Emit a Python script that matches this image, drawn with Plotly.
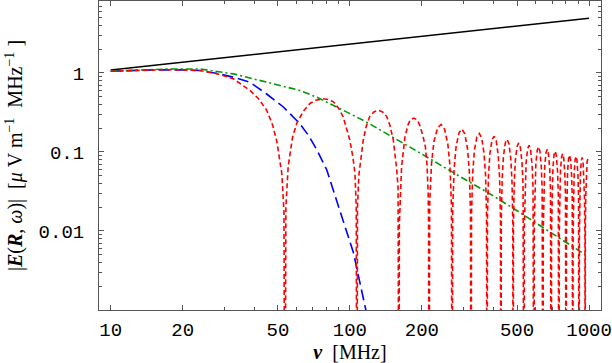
import plotly.graph_objects as go

# ---- data (nu in MHz, |E| in uV/m/MHz) ----
black_nu = [10, 20, 50, 100, 200, 500, 1000]
black_E = [1.09, 1.37, 1.85, 2.32, 2.91, 3.92, 4.92]

blue_nu = [10, 15, 20, 23.6, 28, 32.6, 38.2, 44.9, 52.7, 61.7, 67.3, 72.9, 80.1, 82.6, 91, 103.5, 116.6, 120]
blue_E = [1.05, 1.09, 1.09, 1.07, 0.98, 0.88, 0.76, 0.54, 0.37, 0.228, 0.16, 0.105, 0.059, 0.044, 0.0185, 0.0053, 0.001, 0.0006]

green_nu = [10, 13, 17, 20, 23.6, 32.6, 38.2, 44.9, 52.7, 61.7, 72.9, 85.3, 100, 117, 134, 162, 200, 250, 300, 400, 500, 700, 965]
green_E = [1.05, 1.09, 1.115, 1.12, 1.12, 0.97, 0.86, 0.76, 0.68, 0.60, 0.49, 0.39, 0.305, 0.24, 0.19, 0.137, 0.094, 0.063, 0.0457, 0.0275, 0.018, 0.0094, 0.005]

red_nu = [
    10, 14, 18, 23.6, 28, 32.6, 38.2, 41.5, 44.9, 47.5, 49.4, 51.9, 53.0, 53.5,
    54.0, 55.2, 57.5, 59.9, 64, 68.1, 72, 77.4, 81, 85.3, 89.5, 93.8, 97, 100, 103, 105, 106.3, 107,
    107.6, 109, 113.7, 117, 121, 126, 131.5, 137, 142.5, 147, 152, 154, 157, 159, 160, 160.5,
    161, 162.5, 164.5, 170, 175, 179, 185, 191, 196, 202, 207, 210, 212.5, 213.5, 214,
    215.6, 219.4, 224.7, 232.7, 240.8, 248.8, 256.8, 262.2, 265.9, 267.5,
    269.1, 272.9, 278.2, 286.2, 294.3, 302.3, 310.3, 315.7, 319.4, 321,
    322.6, 326.4, 331.7, 339.7, 347.8, 355.8, 363.8, 369.2, 372.9, 374.5,
    376.1, 379.9, 385.2, 393.2, 401.3, 409.3, 417.3, 422.7, 426.4, 428,
    429.6, 433.4, 438.7, 446.7, 454.8, 462.8, 470.8, 476.2, 479.9, 481.5,
    483.1, 486.9, 492.2, 500.2, 508.3, 516.3, 524.3, 529.7, 533.4, 535,
    536.6, 540.4, 545.7, 553.7, 561.8, 569.8, 577.8, 583.2, 586.9, 588.5,
    590.1, 593.9, 599.2, 607.2, 615.3, 623.3, 631.3, 636.7, 640.4, 642,
    643.6, 647.4, 652.7, 660.7, 668.8, 676.8, 684.8, 690.2, 693.9, 695.5,
    697.1, 700.9, 706.2, 714.2, 722.3, 730.3, 738.3, 743.7, 747.4, 749,
    750.6, 754.4, 759.7, 767.7, 775.8, 783.8, 791.8, 797.2, 800.9, 802.5,
    804.1, 807.9, 813.2, 821.2, 829.3, 837.3, 845.3, 850.7, 854.4, 856,
    857.6, 861.4, 866.7, 874.7, 882.8, 890.8, 898.8, 904.2, 907.9, 909.5,
    911.1, 914.9, 920.2, 928.2, 936.3, 944.3, 952.3, 957.7, 961.4, 963,
    964.6, 968.4, 973.7, 981.7, 989.8, 1000,
]
red_E = [
    1.05, 1.09, 1.10, 1.07, 0.97, 0.84, 0.60, 0.47, 0.336, 0.22, 0.14, 0.054, 0.018, 1e-6,
    0.02, 0.065, 0.15, 0.228, 0.33, 0.41, 0.45, 0.47, 0.46, 0.43, 0.36, 0.277, 0.20, 0.14, 0.085, 0.054, 0.02, 1e-6,
    0.02, 0.05, 0.14, 0.21, 0.28, 0.32, 0.336, 0.32, 0.28, 0.217, 0.14, 0.105, 0.06, 0.035, 0.012, 1e-6,
    0.012, 0.035, 0.065, 0.155, 0.22, 0.255, 0.268, 0.255, 0.217, 0.16, 0.115, 0.07, 0.03, 0.01, 1e-6,
    0.022, 0.071, 0.136, 0.202, 0.222, 0.194, 0.125, 0.066, 0.020, 1e-6,
    0.019, 0.062, 0.119, 0.176, 0.194, 0.169, 0.110, 0.058, 0.0175, 1e-6,
    0.0167, 0.055, 0.105, 0.155, 0.171, 0.149, 0.0965, 0.0507, 0.0154, 1e-6,
    0.0154, 0.0508, 0.0966, 0.1436, 0.158, 0.138, 0.0892, 0.0469, 0.0143, 1e-6,
    0.0141, 0.0463, 0.0881, 0.1309, 0.144, 0.1257, 0.0813, 0.0427, 0.0130, 1e-6,
    0.0127, 0.0418, 0.0795, 0.1181, 0.130, 0.1135, 0.0734, 0.0386, 0.0117, 1e-6,
    0.0118, 0.0389, 0.0740, 0.110, 0.121, 0.1056, 0.0683, 0.0359, 0.0109, 1e-6,
    0.0113, 0.0373, 0.0709, 0.1054, 0.116, 0.1013, 0.0655, 0.0344, 0.0105, 1e-6,
    0.0106, 0.0347, 0.066, 0.0981, 0.108, 0.0943, 0.061, 0.032, 0.0097, 1e-6,
    0.0100, 0.0328, 0.0624, 0.0927, 0.102, 0.0891, 0.0576, 0.0302, 0.0092, 1e-6,
    0.0093, 0.0305, 0.0581, 0.0863, 0.095, 0.0829, 0.0536, 0.0282, 0.0086, 1e-6,
    0.0089, 0.0292, 0.0556, 0.0827, 0.091, 0.0795, 0.0514, 0.027, 0.0082, 1e-6,
    0.0086, 0.0283, 0.0538, 0.080, 0.088, 0.0768, 0.0497, 0.0261, 0.0079, 1e-6,
    0.0083, 0.0273, 0.052, 0.0773, 0.085, 0.0742, 0.048, 0.0252, 0.0077, 1e-6,
    0.0081, 0.0267, 0.0508, 0.0755, 0.083, 0.0805,
]

x_major = [10, 20, 50, 100, 200, 500, 1000]
x_major_text = ["10", "20", "50", "100", "200", "500", "1000"]
x_minor = [30, 40, 60, 70, 80, 90, 300, 400, 600, 700, 800, 900]
y_major = [0.001, 0.01, 0.1, 1]
y_major_text = ["", "0.01", "0.1", "1"]
y_minor = [m * d for d in (0.001, 0.01, 0.1, 1) for m in range(2, 10) if m * d < 8.1]

fig = go.Figure()
fig.add_trace(go.Scatter(x=black_nu, y=black_E, mode="lines",
                         line=dict(color="black", width=1.5)))
fig.add_trace(go.Scatter(x=blue_nu, y=blue_E, mode="lines",
                         line=dict(color="#0000ff", width=1.6, dash="11px,5px")))
fig.add_trace(go.Scatter(x=green_nu, y=green_E, mode="lines",
                         line=dict(color="#009900", width=1.6, dash="7px,3px,2px,3px")))
fig.add_trace(go.Scatter(x=red_nu, y=red_E, mode="lines",
                         line=dict(color="#ff0000", width=1.6, dash="5px,3px")))

tickfont = dict(family="Liberation Mono, Courier New, monospace", size=19, color="black")
axis_common = dict(showline=True, linecolor="#555555", linewidth=1, mirror="ticks",
                   ticks="inside", ticklen=5, tickwidth=1, tickcolor="#555555",
                   showgrid=False, zeroline=False, tickfont=tickfont)

fig.update_xaxes(type="log", range=[0.951, 3.050], tickvals=x_major, ticktext=x_major_text,
                 minor=dict(tickvals=x_minor, ticks="inside", ticklen=3, tickcolor="#555555", showgrid=False),
                 ticklabelstandoff=2,
                 title=dict(text="<b><i>ν</i></b>  [MHz]",
                            font=dict(family="Liberation Serif, Times New Roman, serif", size=20, color="black"),
                            standoff=3),
                 **axis_common)
fig.update_yaxes(type="log", range=[-3.0, 0.909], tickvals=y_major, ticktext=y_major_text,
                 minor=dict(tickvals=y_minor, ticks="inside", ticklen=3, tickcolor="#555555", showgrid=False),
                 ticklabelstandoff=10,
                 title=dict(text="|<b><i>E</i></b>(<b><i>R</i></b>, <i>ω</i>)|  [<i>μ</i> V m<sup>−1</sup>  MHz<sup>−1</sup> ]",
                            font=dict(family="Liberation Serif, Times New Roman, serif", size=20, color="black"),
                            standoff=10),
                 **axis_common)

fig.update_layout(width=612, height=363, showlegend=False,
                  margin=dict(l=99, r=11, t=1, b=53, autoexpand=False),
                  plot_bgcolor="white", paper_bgcolor="white")

fig.write_html("out.html", config={"displayModeBar": False},
               post_script="document.body.style.margin='0';document.body.style.overflow='hidden';")
